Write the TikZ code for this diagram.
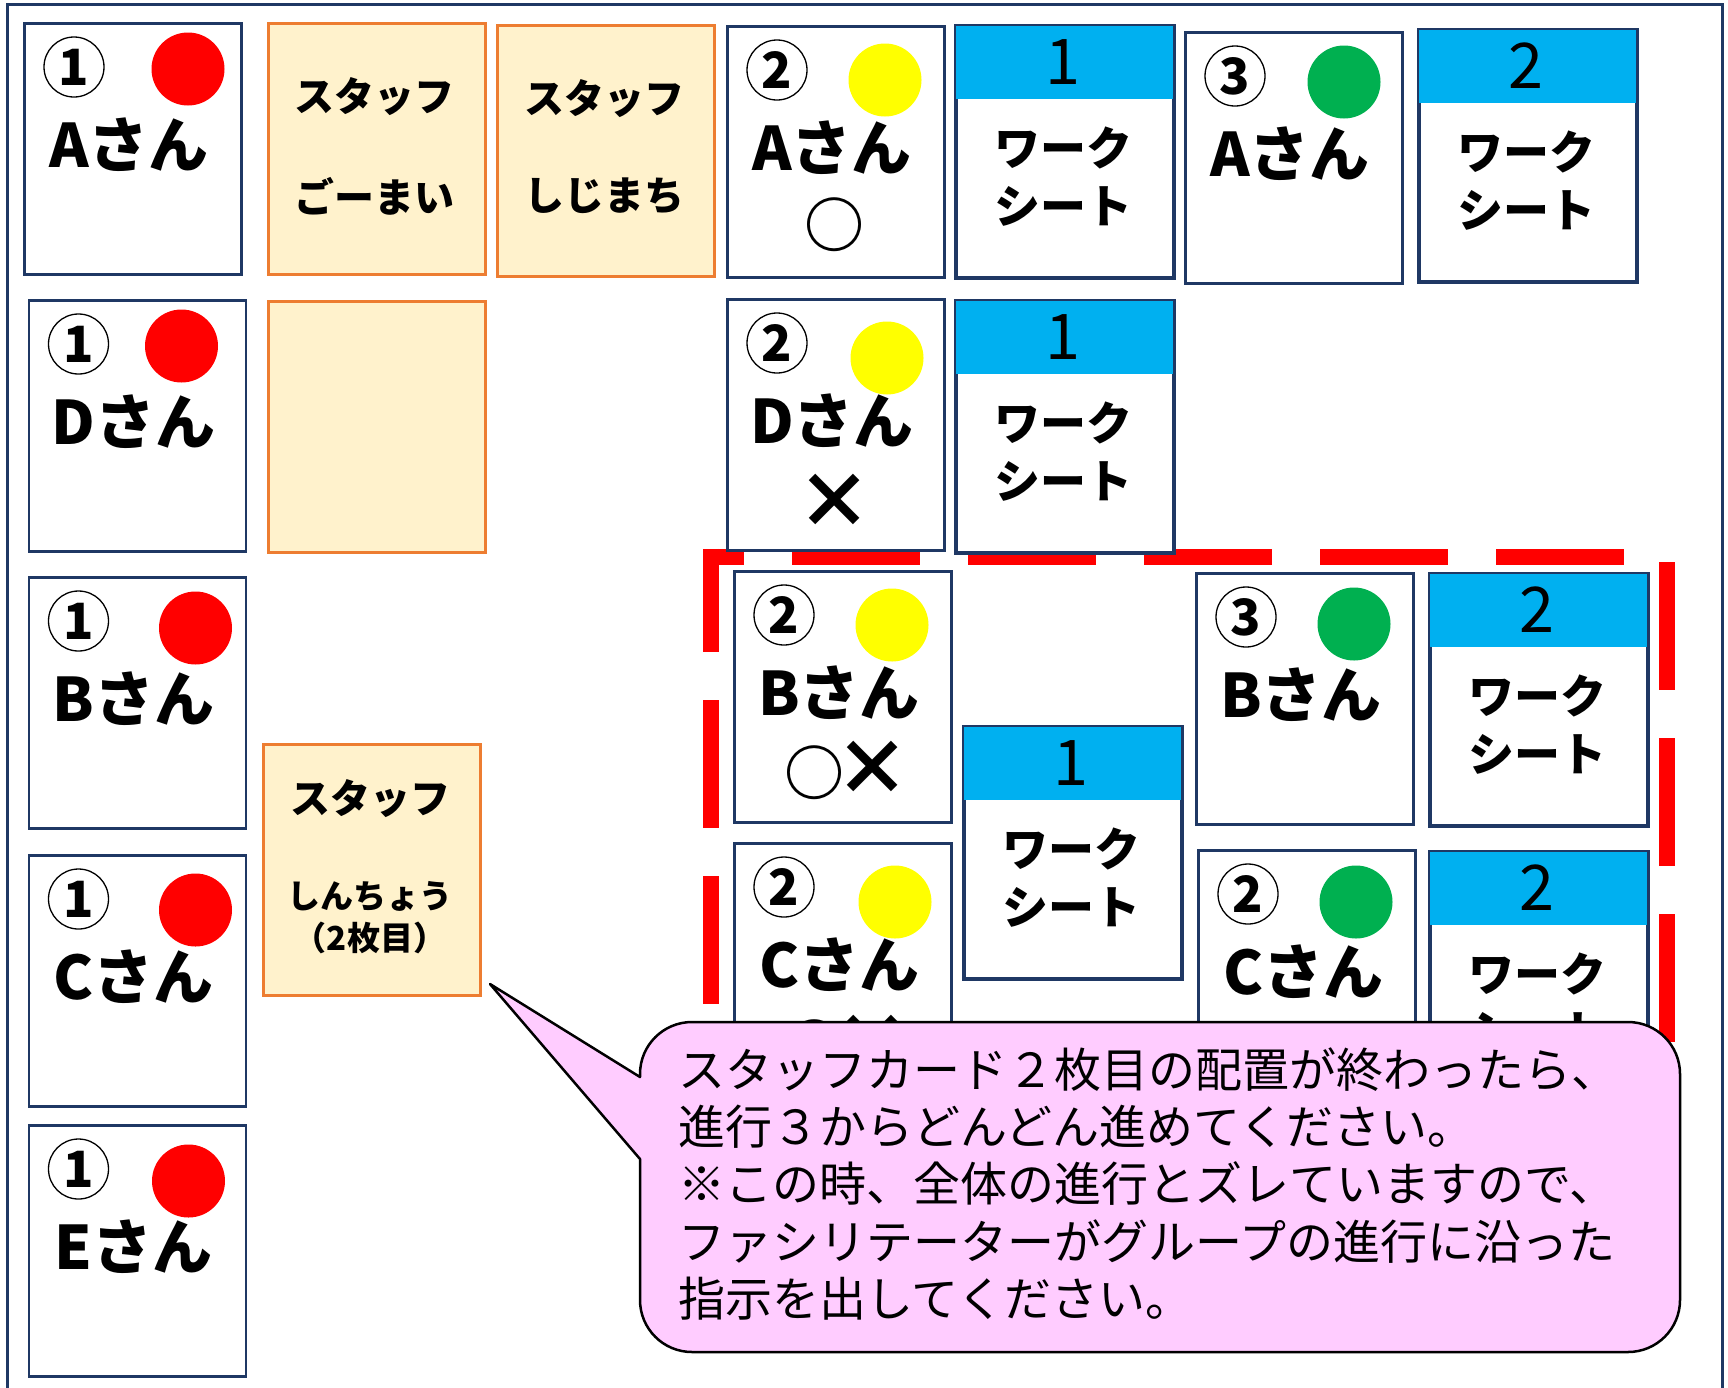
\documentclass[tikz,border=0pt]{standalone}
\usepackage{fontspec}
\usetikzlibrary{calc}
\newfontfamily\jp{Noto Sans CJK JP}
\definecolor{navy}{HTML}{1F3864}
\definecolor{sky}{HTML}{00B0F0}
\definecolor{orangeline}{HTML}{ED7D31}
\definecolor{cream}{HTML}{FFF2CC}
\definecolor{pinkfill}{HTML}{FFCCFF}
\definecolor{dotred}{HTML}{FF0000}
\definecolor{dotyellow}{HTML}{FFFF00}
\definecolor{dotgreen}{HTML}{00B050}
\tikzset{
  card/.style={draw=navy, line width=2.7pt, fill=white, minimum width=217pt, minimum height=251pt, inner sep=0pt, anchor=north west},
  staffcard/.style={draw=orangeline, line width=2.5pt, fill=cream, minimum width=217pt, minimum height=251pt, inner sep=0pt, anchor=north west},
  numring/.style={draw=black, line width=1.3pt, circle, minimum size=60pt, inner sep=0pt, font=\jp\bfseries\fontsize{50}{50}\selectfont},
  dotmark/.style={circle, minimum size=73pt, inner sep=0pt},
  nametext/.style={inner sep=0pt, font=\jp\bfseries\fontsize{60}{60}\selectfont},
  marktext/.style={inner sep=0pt, font=\jp\bfseries\fontsize{60}{60}\selectfont},
  wsnum/.style={inner sep=0pt, font=\jp\fontsize{63}{63}\selectfont},
  wstext/.style={inner sep=0pt, align=center, font=\jp\bfseries\fontsize{46}{58}\selectfont},
  stafftext/.style={inner sep=0pt, font=\jp\bfseries\fontsize{40}{40}\selectfont},
  smallstaff/.style={inner sep=0pt, font=\jp\bfseries\fontsize{33}{33}\selectfont},
  redash/.style={draw=dotred, line width=16.5pt, dash pattern=on 128pt off 48pt},
  callout/.style={draw=black, line width=2.5pt, fill=pinkfill, line join=round},
  callouttext/.style={inner sep=0pt, anchor=base west, font=\jp\fontsize{47}{47}\selectfont},
}
\newcommand\bigx{{\fontsize{76}{76}\selectfont ×}}
\newcommand\personcard[8]{%
  \node[card] (#1) at (#2,#3) {};
  \node[numring] (#1-num) at ([shift={(51,45)}]#1.north west) {#4};
  \node[dotmark, fill=#5] (#1-dot) at ([shift={(#7,#8)}]#1.north west) {};
  \node[nametext] (#1-name) at ([shift={(106,123)}]#1.north west) {#6さん};
}
\newcommand\wscard[4]{%
  \node[card] (#1) at (#2,#3) {};
  \fill[sky] (#1.north west) rectangle ([shift={(0,74)}]#1.north east);
  \draw[navy, line width=2.7pt] (#1.north west) rectangle (#1.south east);
  \node[wsnum] (#1-num) at ([shift={(108,37)}]#1.north west) {#4};
  \node[wstext] (#1-text) at ([shift={(108,152)}]#1.north west) {ワーク\\シート};
}
\begin{document}
\begin{tikzpicture}[x=1pt, y=-1pt]
\useasboundingbox (0,0) rectangle (1728,1387);
\clip (0,0) rectangle (1728,1387);
\fill[white] (0,0) rectangle (1728,1387);
% outer frame
\draw[navy, line width=3pt] (7,4.5) rectangle (1722,1430);

% dashed red region
\draw[redash, dash phase=95pt] (711,557) -- (1667,557) -- (1667,1250);
\draw[redash, dash phase=24.75pt] (711,548.75) -- (711,1250);

% column 1
\personcard{pA1}{23}{22}{1}{dotred}{A}{165}{47}
\personcard{pD1}{27.5}{299}{1}{dotred}{D}{154}{47}
\personcard{pB1}{27.5}{576}{1}{dotred}{B}{168}{52}
\personcard{pC1}{27.5}{854}{1}{dotred}{C}{168}{56}
\personcard{pE1}{27.5}{1124}{1}{dotred}{E}{161}{57}

% staff cards
\node[staffcard] (sGo) at (267,22) {};
\node[stafftext] (sGo-a) at ([shift={(107,75)}]sGo.north west) {スタッフ};
\node[stafftext] (sGo-b) at ([shift={(107,174)}]sGo.north west) {ごーまい};
\node[staffcard] (sShi) at (496,24) {};
\node[stafftext] (sShi-a) at ([shift={(108,75)}]sShi.north west) {スタッフ};
\node[stafftext] (sShi-b) at ([shift={(108,172)}]sShi.north west) {しじまち};
\node[staffcard] (sEmpty) at (267,300) {};
\node[staffcard] (sShin) at (262,743) {};
\node[stafftext] (sShin-a) at ([shift={(108,56)}]sShin.north west) {スタッフ};
\node[smallstaff] (sShin-b) at ([shift={(108,153)}]sShin.north west) {しんちょう};
\node[smallstaff] (sShin-c) at ([shift={(108,195)}]sShin.north west) {（2枚目）};

% upper right cards
\personcard{pA2}{726}{25}{2}{dotyellow}{A}{159}{55}
\node[marktext] (pA2-mark) at ([shift={(108,200)}]pA2.north west) {○};
\wscard{w1a}{955}{25}{1}
\personcard{pA3}{1184}{31}{3}{dotgreen}{A}{160}{51}
\wscard{w2a}{1418}{29}{2}
\personcard{pD2}{726}{298}{2}{dotyellow}{D}{161}{60}
\node[marktext] (pD2-mark) at ([shift={(108,203)}]pD2.north west) {\bigx};
\wscard{w1b}{955}{300}{1}

% dashed area cards
\personcard{pB2}{733}{570}{2}{dotyellow}{B}{159}{55}
\node[marktext] (pB2-mark) at ([shift={(114,200)}]pB2.north west) {○\kern-10pt\bigx};
\wscard{w1c}{963}{726}{1}
\personcard{pB3}{1195}{572}{3}{dotgreen}{B}{159}{52}
\wscard{w2b}{1429}{573}{2}
\personcard{pC2y}{733}{842}{2}{dotyellow}{C}{162}{60}
\node[marktext] (pC2y-mark) at ([shift={(114,202)}]pC2y.north west) {○\kern-10pt\bigx};
\personcard{pC2g}{1197}{849}{2}{dotgreen}{C}{159}{53}
\wscard{w2c}{1429}{851}{2}

% callout
\coordinate (tip) at (490,984);
\draw[callout] (tip) -- (640,1077) -- (640,1074)
  arc[start angle=180, end angle=270, radius=52] -- (1628,1022)
  arc[start angle=270, end angle=360, radius=52] -- (1680,1300)
  arc[start angle=0, end angle=90, radius=52] -- (692,1352)
  arc[start angle=90, end angle=180, radius=52] -- (640,1159) -- cycle;
\node[callouttext] (t1) at (678,1087) {スタッフカード２枚目の配置が終わったら、};
\node[callouttext] (t2) at (678,1144) {進行３からどんどん進めてください。};
\node[callouttext] (t3) at (678,1201) {※この時、全体の進行とズレていますので、};
\node[callouttext] (t4) at (678,1259) {ファシリテーターがグループの進行に沿った};
\node[callouttext] (t5) at (678,1316) {指示を出してください。};
\end{tikzpicture}
\end{document}
